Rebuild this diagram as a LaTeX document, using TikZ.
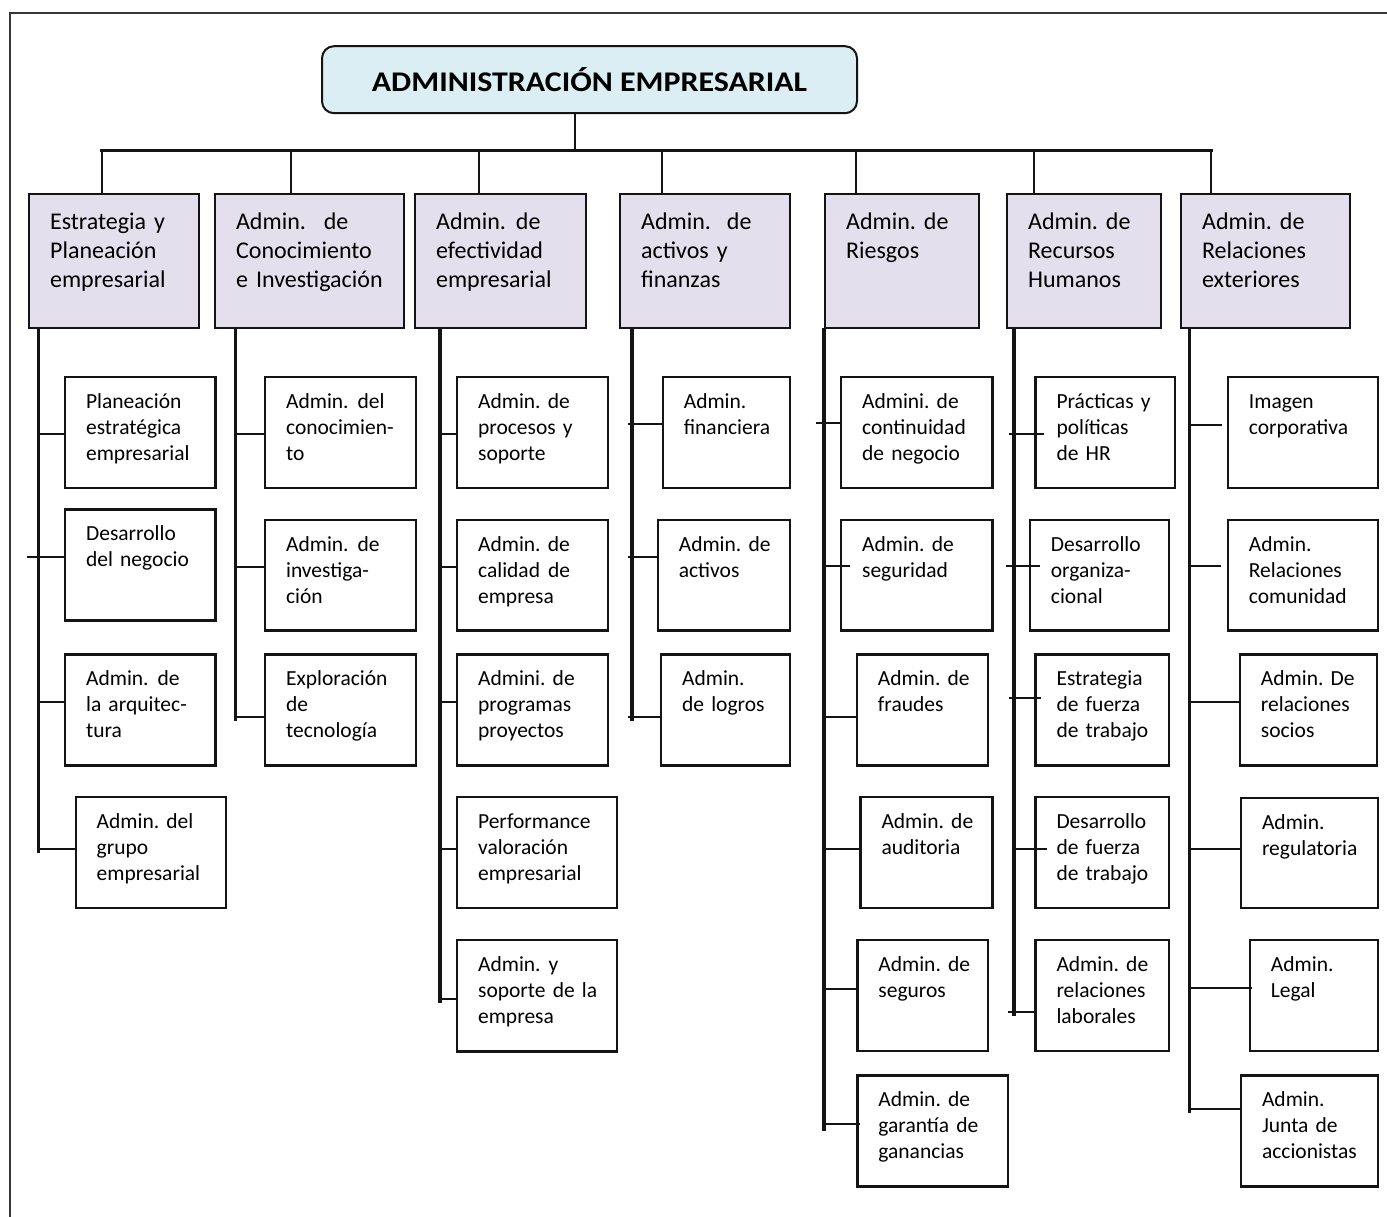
\documentclass[tikz,border=0pt]{standalone}
\usepackage{fontspec}
\setmainfont{Carlito}
\newfontfamily\titlefont[FakeStretch=1.12]{Carlito}
\frenchspacing
\definecolor{headfill}{RGB}{228,223,236}
\definecolor{titlefill}{RGB}{218,238,243}
\definecolor{ink}{RGB}{20,20,20}

% box with top-left corner (x1,y1), bottom-right (x2,y2), first baseline offset, text
\newcommand\mkbox[8]{%
  \pgfmathsetmacro\bw{#5-#3}%
  \pgfmathsetmacro\bd{#6-#4-#7}%
  \node[#1, text width=\bw pt, text height=#7pt, text depth=\bd pt] (#2) at (#3,#4)
    {\leftskip=21pt\rightskip=0pt plus 1fil\relax #8\par};}

% horizontal link from a trunk to a box at image height y
% args: box, trunk, y, overhang left of trunk, extension into box
\newcommand\link[5]{%
  \coordinate (lv) at (0,#3);
  \draw[conn] ([xshift=-#4pt]#2 |- lv) -- ([xshift=#5pt]#1.west |- lv);}

\begin{document}
\begin{tikzpicture}[x=1pt,y=-1pt,
  sub/.style={draw=ink, line width=2.2pt, anchor=north west, inner sep=0pt,
    align=left, font=\fontsize{21.5}{26}\selectfont},
  head/.style={sub, fill=headfill, font=\fontsize{24}{29}\selectfont},
  titlebox/.style={draw=ink, line width=2pt, fill=titlefill, rounded corners=12pt,
    minimum width=535pt, minimum height=67pt, inner sep=0pt,
    font=\titlefont\bfseries\fontsize{28.5}{34}\selectfont},
  conn/.style={draw=ink, line width=2pt},
  trunk/.style={draw=ink, line width=3.2pt, line cap=rect},
  busline/.style={draw=ink, line width=3pt, line cap=rect},
  drop/.style={draw=ink, line width=2pt},
  frame/.style={draw=ink!85, line width=2pt}]

\useasboundingbox[fill=white] (0,0) rectangle (1387,1217);
\draw[frame] (10,1217) -- (10,13) -- (1387,13);

% title
\node[titlebox] (top) at (589.5,79.7) {ADMINISTRACIÓN EMPRESARIAL};
\coordinate (bus) at (0,151);

% main areas
\mkbox{head}{T1}{28}{193}{198}{327}{35.5}{Estrategia y\\Planeación\\empresarial}
\mkbox{head}{T2}{214}{193}{403}{327}{35.5}{Admin.\hspace{18pt}de\\Conocimiento\\e Investigación}
\mkbox{head}{T3}{414}{193}{585}{327}{35.5}{Admin.\hspace{10pt}de\\efectividad\\empresarial}
\mkbox{head}{T4}{619}{193}{789}{327}{35.5}{Admin.\hspace{16pt}de\\activos y\\finanzas}
\mkbox{head}{T5}{824}{193}{978}{327}{35.5}{Admin. de\\Riesgos}
\mkbox{head}{T6}{1006}{193}{1160}{327}{35.5}{Admin.\hspace{8pt}de\\Recursos\\Humanos}
\mkbox{head}{T7}{1180}{193}{1349}{327}{35.5}{Admin.\hspace{8pt}de\\Relaciones\\exteriores}

% title stem, bus and drops
\draw[drop] ([xshift=-14.5pt]top.south) -- ([xshift=-14.5pt]top.south |- bus);
\draw[busline] ([xshift=73.8pt]T1.north west |- bus) -- ([xshift=31pt]T7.north west |- bus);
\foreach \n/\d in {T1/73.8,T2/76.6,T3/65,T4/42.6,T5/32,T6/28.4,T7/31}
  \draw[drop] ([xshift=\d pt]\n.north west |- bus) -- ([xshift=\d pt]\n.north west);

% sub-areas
\mkbox{sub}{S11}{64}{375.7}{214.3}{486.7}{31.5}{Planeación\\estratégica\\empresarial}
\mkbox{sub}{S12}{64}{508.3}{214.3}{619.3}{31.5}{Desarrollo\\del negocio}
\mkbox{sub}{S13}{64}{653.3}{214.3}{764.3}{31.5}{Admin.\hspace{9pt}de\\la arquitec-\\tura}
\mkbox{sub}{S14}{74.6}{796}{225.1}{907}{31.5}{Admin. del\\grupo\\empresarial}

\mkbox{sub}{S21}{264}{375.7}{415}{486.7}{31.5}{Admin.\hspace{9pt}del\\conocimien-\\to}
\mkbox{sub}{S22}{264}{519}{415}{629.3}{31.5}{Admin.\hspace{9pt}de\\investiga-\\ción}
\mkbox{sub}{S23}{264}{653.3}{415}{764.3}{31.5}{Exploración\\de\\tecnología}

\mkbox{sub}{S31}{456}{375.7}{607}{486.7}{31.5}{Admin. de\\procesos y\\soporte}
\mkbox{sub}{S32}{456}{519}{607}{629.3}{31.5}{Admin. de\\calidad\hspace{8pt}de\\empresa}
\mkbox{sub}{S33}{456}{653.3}{607}{764.3}{31.5}{Admini. de\\programas\\proyectos}
\mkbox{sub}{S34}{456}{796}{616}{907}{31.5}{Performance\\valoración\\empresarial}
\mkbox{sub}{S35}{456}{939}{616}{1050.3}{31.5}{Admin.\hspace{8pt}y\\soporte de la\\empresa}

\mkbox{sub}{S41}{661.7}{375.7}{788.7}{486.7}{31.5}{Admin.\\financiera}
\mkbox{sub}{S42}{656.7}{519}{788.7}{629.3}{31.5}{Admin. de\\activos}
\mkbox{sub}{S43}{660}{653.3}{788.7}{764.3}{31.5}{Admin.\\de logros}

\mkbox{sub}{S51}{840}{375.7}{991.3}{486.7}{31.5}{Admini. de\\continuidad\\de negocio}
\mkbox{sub}{S52}{840}{519}{991.3}{629.3}{31.5}{Admin. de\\seguridad}
\mkbox{sub}{S53}{855.8}{653.3}{987.2}{764.3}{31.5}{Admin. de\\fraudes}
\mkbox{sub}{S54}{859.4}{796}{991.4}{907}{31.5}{Admin. de\\auditoria}
\mkbox{sub}{S55}{856.3}{939}{987.1}{1050}{31.5}{Admin. de\\seguros}
\mkbox{sub}{S56}{856.3}{1074.3}{1006.9}{1185.3}{31.5}{Admin. de\\garantía de\\ganancias}

\mkbox{sub}{S61}{1034.4}{375.7}{1173.6}{486.7}{31.5}{Prácticas y\\políticas\\de HR}
\mkbox{sub}{S62}{1028.8}{519}{1168}{629.3}{31.5}{Desarrollo\\organiza-\\cional}
\mkbox{sub}{S63}{1034.4}{653.3}{1168}{764.3}{31.5}{Estrategia\\de fuerza\\de trabajo}
\mkbox{sub}{S64}{1034.4}{796}{1167.5}{907}{31.5}{Desarrollo\\de fuerza\\de trabajo}
\mkbox{sub}{S65}{1034.4}{939}{1167.5}{1050}{31.5}{Admin. de\\relaciones\\laborales}

\mkbox{sub}{S71}{1226.8}{375.7}{1377}{486.7}{31.5}{Imagen\\corporativa}
\mkbox{sub}{S72}{1226.8}{519}{1377}{629.3}{31.5}{Admin.\\Relaciones\\comunidad}
\mkbox{sub}{S73}{1238.8}{653.3}{1375.8}{764.3}{31.5}{Admin. De\\relaciones\\socios}
\mkbox{sub}{S74}{1239.9}{796.7}{1376.6}{907}{31.5}{Admin.\\regulatoria}
\mkbox{sub}{S75}{1248.8}{939}{1376.6}{1050}{31.5}{Admin.\\Legal}
\mkbox{sub}{S76}{1239.9}{1074.3}{1376.6}{1185.3}{31.5}{Admin.\\Junta de\\accionistas}

% trunks under each area
\coordinate (c1) at ([xshift=10.5pt]T1.south west);
\coordinate (c2) at ([xshift=21.5pt]T2.south west);
\coordinate (c3) at ([xshift=26pt]T3.south west);
\coordinate (c4) at ([xshift=13pt]T4.south west);
\coordinate (c5) at (T5.south west);
\coordinate (c6) at ([xshift=8pt]T6.south west);
\coordinate (c7) at ([xshift=9.5pt]T7.south west);
\draw[trunk] (c1) -- ++(0,522);
\draw[trunk] (c2) -- ++(0,389.7);
\draw[trunk] (c3) -- ++(0,672.3);
\draw[trunk] (c4) -- ++(0,389.7);
\draw[trunk] (c5) -- ++(0,800);
\draw[trunk] (c6) -- ++(0,684.7);
\draw[trunk] (c7) -- ++(0,782.3);

% links
\link{S11}{c1}{434}{0}{0}
\link{S12}{c1}{557.3}{12}{0}
\link{S13}{c1}{701.7}{0}{0}
\link{S14}{c1}{849}{0}{0}
\link{S21}{c2}{434}{0}{0}
\link{S22}{c2}{566.7}{0}{0}
\link{S23}{c2}{716.7}{0}{0}
\link{S31}{c3}{434}{0}{0}
\link{S32}{c3}{566.7}{0}{0}
\link{S33}{c3}{701.7}{0}{0}
\link{S34}{c3}{849.3}{0}{0}
\link{S35}{c3}{999.3}{0}{0}
\link{S41}{c4}{424}{4}{0}
\link{S42}{c4}{557}{4}{0}
\link{S43}{c4}{716.7}{4}{0}
\link{S51}{c5}{423.3}{8.5}{0}
\link{S52}{c5}{566.3}{0}{10}
\link{S53}{c5}{716.7}{0}{0}
\link{S54}{c5}{849}{0}{0}
\link{S55}{c5}{988.7}{0}{0}
\link{S56}{c5}{1124}{0}{4}
\link{S61}{c6}{434}{5.5}{9.6}
\link{S62}{c6}{566.3}{7.7}{10.8}
\link{S63}{c6}{698.3}{5.5}{7}
\link{S64}{c6}{849}{0}{12.6}
\link{S65}{c6}{1011.7}{5.6}{0}
\link{S71}{c7}{425}{0}{-4.5}
\link{S72}{c7}{566.3}{0}{-6}
\link{S73}{c7}{701.7}{0}{0}
\link{S74}{c7}{849}{0}{0}
\link{S75}{c7}{988.3}{0}{2.7}
\link{S76}{c7}{1109.3}{0}{0}
\end{tikzpicture}
\end{document}
